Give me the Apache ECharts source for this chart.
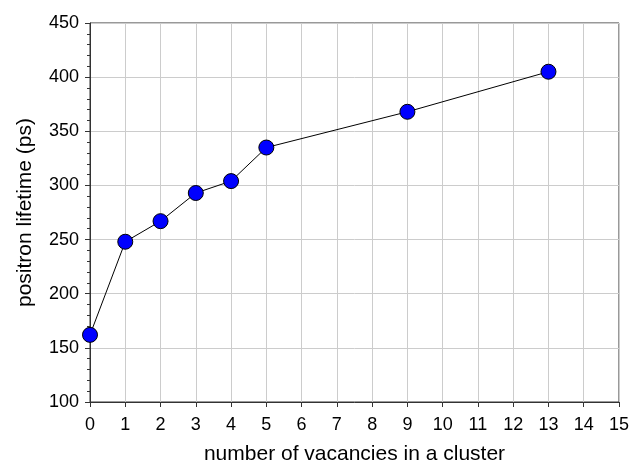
<!DOCTYPE html>
<html><head><meta charset="utf-8">
<script src="https://cdn.jsdelivr.net/npm/echarts@6/dist/echarts.min.js"></script>
<style>html,body{margin:0;padding:0;background:#fff}#c{width:641px;height:463px}</style>
</head><body><div id="c"></div>
<script>
var vacancies = [0, 1, 2, 3, 4, 5, 9, 13];
var lifetimes = [162, 248, 267, 293, 304, 335, 368, 405];
var xTitle = 'number of vacancies in a cluster';
var yTitle = 'positron lifetime (ps)';

var font = 'Liberation Sans, Arial, sans-serif';
var chart = echarts.init(document.getElementById('c'));
chart.setOption({
  animation: false,
  backgroundColor: '#fff',
  grid: {left: 90, right: 22, top: 23, bottom: 61, show: true, borderColor: '#333', borderWidth: 1,
         containLabel: false, outerBoundsMode: 'none'},
  xAxis: {
    type: 'value', min: 0, max: 15, interval: 1,
    name: xTitle, nameLocation: 'middle', nameGap: 42,
    nameTextStyle: {fontFamily: font, fontSize: 21, color: '#000'},
    axisLine: {show: true, onZero: false, lineStyle: {color: '#333'}},
    axisTick: {show: true, length: 5, lineStyle: {color: '#333'}},
    axisLabel: {fontFamily: font, fontSize: 18, color: '#000', margin: 14},
    splitLine: {show: true, lineStyle: {color: '#cccccc'}}
  },
  yAxis: {
    type: 'value', min: 100, max: 450, interval: 50,
    name: yTitle, nameLocation: 'middle', nameGap: 54,
    nameTextStyle: {fontFamily: font, fontSize: 21, color: '#000'},
    axisLine: {show: true, lineStyle: {color: '#333'}},
    axisTick: {show: true, length: 5, lineStyle: {color: '#333'}},
    minorTick: {show: true, splitNumber: 5, length: 3, lineStyle: {color: '#333'}},
    axisLabel: {fontFamily: font, fontSize: 18, color: '#000', margin: 11},
    splitLine: {show: true, lineStyle: {color: '#cccccc'}}
  },
  series: [{
    type: 'line',
    data: vacancies.map(function (v, i) { return [v, lifetimes[i]]; }),
    symbol: 'circle', symbolSize: 15,
    lineStyle: {color: '#000', width: 1},
    itemStyle: {color: '#0000ff', borderColor: '#000', borderWidth: 1}
  }]
});
</script></body></html>
